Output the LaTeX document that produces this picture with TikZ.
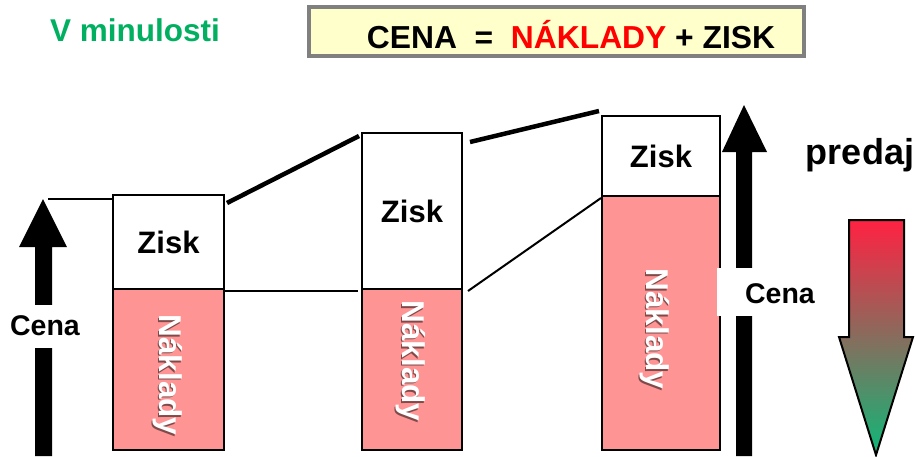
\documentclass[tikz,border=0pt]{standalone}
\usepackage{fontspec}
\setmainfont{Liberation Sans}
\usetikzlibrary{calc}
\definecolor{pinkfill}{RGB}{255,148,148}
\definecolor{titlefill}{RGB}{255,255,204}
\definecolor{titlegray}{RGB}{128,128,128}
\definecolor{mygreen}{RGB}{0,176,96}
\definecolor{gradtop}{RGB}{255,34,66}
\definecolor{gradbot}{RGB}{14,184,120}
\tikzset{
  zbox/.style={draw=black, line width=2pt, fill=white, inner sep=0pt, outer sep=0pt,
    font=\fontsize{31}{31}\selectfont\bfseries},
  nbox/.style={draw=black, line width=2pt, fill=pinkfill, inner sep=0pt, outer sep=0pt},
  ntext/.style={rotate=-90, text=white, inner sep=0pt, font=\fontsize{31.5}{31.5}\selectfont\bfseries},
  nshadow/.style={rotate=-90, text=black!50!pinkfill, inner sep=0pt, font=\fontsize{31.5}{31.5}\selectfont\bfseries},
  thinline/.style={line width=2pt},
  thickline/.style={line width=4.5pt},
  bigarrow/.style={fill=black},
  cenalabel/.style={inner sep=0pt, font=\fontsize{28.5}{28.5}\selectfont\bfseries},
}
\begin{document}
\begin{tikzpicture}[x=1pt,y=-1pt]
\useasboundingbox (0,0) rectangle (916,456);
% title
\node[text=mygreen, font=\fontsize{31.5}{31.5}\selectfont\bfseries, inner sep=0pt] (past) at (135,30) {V minulosti};
\node[draw=titlegray, line width=4pt, fill=titlefill, minimum width=495pt, minimum height=49pt, inner sep=0pt] (title) at (556.5,31.5) {};
\node[inner sep=0pt, font=\fontsize{31.8}{31.8}\selectfont\bfseries] (formula) at (571,35) {CENA\ \ =\ \ \textcolor{red}{NÁKLADY} + ZISK};

% left arrow
\fill[bigarrow] (35,456) -- (35,247) -- (19,247) -- (43,199) -- (67,247) -- (52,247) -- (52,456) -- cycle;
\node[cenalabel, fill=white, minimum height=43pt] (cenaL) at (45,326) {Cena};

% right arrow
\fill[bigarrow] (736,456) -- (736,152) -- (722,152) -- (744,105) -- (767,152) -- (752,152) -- (752,456) -- cycle;

% boxes
\node[zbox, minimum width=111pt, minimum height=94pt] (z1) at (168.5,242) {Zisk};
\node[nbox, minimum width=111pt, minimum height=161pt] (n1) at (168.5,369.5) {};
\node[zbox, minimum width=100pt, minimum height=156pt] (z2) at (412,211) {Zisk};
\node[nbox, minimum width=100pt, minimum height=161pt] (n2) at (412,369.5) {};
\node[zbox, minimum width=118pt, minimum height=80pt] (z3) at (661,156) {Zisk};
\node[nbox, minimum width=118pt, minimum height=254pt] (n3) at (661,323) {};

\foreach \x/\y [count=\i] in {168/375, 411/361, 655/329}{
  \node[nshadow] at (\x-1.6,\y+1.6) {Náklady};
  \node[ntext] (nt\i) at (\x,\y) {Náklady};
}

% right Cena label with white patch
\fill[white] (717,268) rectangle (822,316);
\node[cenalabel] (cenaR) at (780,294) {Cena};

% connectors
\coordinate (l0) at (48,199);
\draw[thinline] (l0) -- ($(z1.north west)+(-1,4)$);
\draw[thickline] ($(z1.north east)+(3,8)$) -- ($(z2.north west)+(-3,3)$);
\draw[thickline] ($(z2.north east)+(8,9)$) -- ($(z3.north west)+(-3,-5)$);
\draw[thinline] ($(n1.north east)+(1,2)$) -- ($(n2.north west)+(-4,2)$);
\draw[thinline] ($(n2.north east)+(6,2)$) -- ($(n3.north west)+(-1,2)$);

% predaj
\node[inner sep=0pt, font=\fontsize{36}{36}\selectfont\bfseries] (predaj) at (860,155) {predaj};
\shade[top color=gradtop, bottom color=gradbot] (849,220) -- (904,220) -- (904,337) -- (913,337) -- (876,455) -- (839,337) -- (849,337) -- cycle;
\draw[line width=2pt, line join=miter] (849,220) -- (904,220) -- (904,337) -- (913,337) -- (876,455) -- (839,337) -- (849,337) -- cycle;
\end{tikzpicture}
\end{document}
